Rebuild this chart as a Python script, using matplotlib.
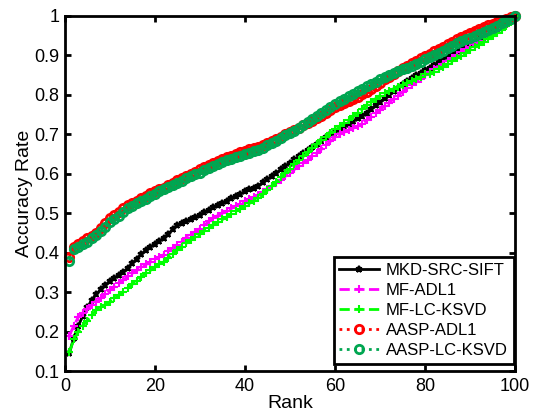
import matplotlib
matplotlib.use("Agg")
import matplotlib.pyplot as plt
import numpy as np

plt.rcParams["font.family"] = ["Liberation Sans", "DejaVu Sans"]

ranks = np.arange(1, 101)

mkd_src_sift = [
    0.145, 0.185, 0.215, 0.240, 0.262, 0.280, 0.295, 0.307, 0.318, 0.328,
    0.336, 0.344, 0.352, 0.361, 0.373, 0.385, 0.396, 0.407, 0.415, 0.422,
    0.430, 0.437, 0.448, 0.459, 0.470, 0.475, 0.480, 0.485, 0.490, 0.496,
    0.502, 0.508, 0.515, 0.520, 0.526, 0.532, 0.538, 0.543, 0.549, 0.555,
    0.560, 0.565, 0.570, 0.578, 0.586, 0.594, 0.602, 0.611, 0.620, 0.628,
    0.636, 0.644, 0.652, 0.660, 0.668, 0.676, 0.684, 0.692, 0.700, 0.706,
    0.712, 0.719, 0.726, 0.733, 0.740, 0.747, 0.755, 0.764, 0.773, 0.782,
    0.791, 0.800, 0.809, 0.818, 0.827, 0.835, 0.842, 0.849, 0.856, 0.863,
    0.869, 0.876, 0.883, 0.890, 0.897, 0.904, 0.910, 0.916, 0.922, 0.928,
    0.934, 0.940, 0.946, 0.952, 0.958, 0.964, 0.971, 0.979, 0.988, 1.000,
]

mf_adl1 = [
    0.190, 0.215, 0.237, 0.248, 0.258, 0.267, 0.275, 0.285, 0.295, 0.305,
    0.314, 0.322, 0.331, 0.340, 0.348, 0.355, 0.363, 0.370, 0.376, 0.383,
    0.389, 0.395, 0.403, 0.411, 0.420, 0.428, 0.436, 0.444, 0.452, 0.461,
    0.470, 0.479, 0.488, 0.494, 0.500, 0.506, 0.512, 0.518, 0.524, 0.530,
    0.535, 0.540, 0.545, 0.553, 0.561, 0.569, 0.577, 0.585, 0.594, 0.603,
    0.611, 0.619, 0.627, 0.635, 0.644, 0.653, 0.662, 0.672, 0.682, 0.692,
    0.700, 0.705, 0.710, 0.715, 0.720, 0.726, 0.735, 0.744, 0.753, 0.762,
    0.771, 0.780, 0.789, 0.798, 0.807, 0.816, 0.825, 0.833, 0.841, 0.849,
    0.857, 0.864, 0.871, 0.878, 0.885, 0.892, 0.900, 0.908, 0.915, 0.922,
    0.929, 0.936, 0.943, 0.950, 0.957, 0.964, 0.972, 0.980, 0.989, 1.000,
]

mf_lc_ksvd = [
    0.148, 0.180, 0.200, 0.215, 0.228, 0.242, 0.255, 0.262, 0.268, 0.275,
    0.284, 0.292, 0.301, 0.310, 0.320, 0.329, 0.339, 0.348, 0.355, 0.363,
    0.370, 0.377, 0.387, 0.397, 0.407, 0.415, 0.424, 0.432, 0.440, 0.448,
    0.455, 0.462, 0.470, 0.477, 0.484, 0.491, 0.498, 0.505, 0.511, 0.518,
    0.525, 0.531, 0.538, 0.548, 0.558, 0.569, 0.580, 0.591, 0.602, 0.613,
    0.624, 0.634, 0.644, 0.655, 0.665, 0.675, 0.685, 0.694, 0.703, 0.712,
    0.720, 0.728, 0.737, 0.746, 0.755, 0.764, 0.773, 0.782, 0.790, 0.798,
    0.804, 0.810, 0.815, 0.820, 0.825, 0.830, 0.835, 0.840, 0.846, 0.852,
    0.852, 0.858, 0.864, 0.871, 0.878, 0.885, 0.892, 0.899, 0.906, 0.913,
    0.920, 0.927, 0.934, 0.941, 0.948, 0.956, 0.964, 0.973, 0.985, 1.000,
]

aasp_adl1 = [
    0.390, 0.415, 0.422, 0.430, 0.436, 0.443, 0.451, 0.462, 0.475, 0.488,
    0.496, 0.504, 0.512, 0.520, 0.526, 0.532, 0.538, 0.544, 0.550, 0.555,
    0.560, 0.565, 0.571, 0.577, 0.583, 0.589, 0.595, 0.600, 0.605, 0.611,
    0.617, 0.623, 0.628, 0.633, 0.638, 0.642, 0.646, 0.650, 0.654, 0.658,
    0.662, 0.665, 0.668, 0.673, 0.678, 0.683, 0.688, 0.694, 0.700, 0.705,
    0.711, 0.717, 0.723, 0.728, 0.734, 0.740, 0.747, 0.754, 0.761, 0.768,
    0.775, 0.780, 0.785, 0.790, 0.795, 0.801, 0.808, 0.815, 0.823, 0.831,
    0.839, 0.846, 0.853, 0.860, 0.867, 0.874, 0.880, 0.886, 0.892, 0.898,
    0.904, 0.910, 0.916, 0.922, 0.928, 0.934, 0.940, 0.946, 0.951, 0.956,
    0.961, 0.966, 0.971, 0.976, 0.980, 0.984, 0.988, 0.992, 0.996, 1.000,
]

aasp_lc_ksvd = [
    0.380, 0.410, 0.415, 0.422, 0.428, 0.436, 0.445, 0.455, 0.466, 0.478,
    0.486, 0.494, 0.503, 0.513, 0.519, 0.525, 0.531, 0.537, 0.543, 0.549,
    0.555, 0.560, 0.566, 0.571, 0.577, 0.582, 0.588, 0.593, 0.598, 0.603,
    0.609, 0.615, 0.620, 0.625, 0.630, 0.635, 0.638, 0.642, 0.646, 0.650,
    0.653, 0.657, 0.660, 0.666, 0.672, 0.678, 0.684, 0.690, 0.697, 0.703,
    0.709, 0.716, 0.723, 0.730, 0.738, 0.746, 0.754, 0.762, 0.769, 0.776,
    0.783, 0.790, 0.797, 0.803, 0.809, 0.815, 0.821, 0.827, 0.833, 0.839,
    0.845, 0.850, 0.855, 0.860, 0.864, 0.868, 0.872, 0.878, 0.884, 0.890,
    0.895, 0.900, 0.906, 0.912, 0.918, 0.924, 0.930, 0.935, 0.940, 0.945,
    0.950, 0.955, 0.960, 0.965, 0.970, 0.975, 0.981, 0.987, 0.993, 1.000,
]

fig = plt.figure(figsize=(5.36, 4.16), dpi=100)
ax = fig.add_axes([0.121, 0.108, 0.840, 0.854])

ax.plot(ranks, mkd_src_sift, "-", color="black", lw=2, marker="*", ms=5,
        mew=1.5, label="MKD-SRC-SIFT", clip_on=False)
ax.plot(ranks, mf_adl1, "--", color="#ff00ff", lw=2, marker="+", ms=6,
        mew=1.5, label="MF-ADL1", clip_on=False)
ax.plot(ranks, mf_lc_ksvd, "--", color="#00ff00", lw=2, marker="+", ms=6,
        mew=1.5, label="MF-LC-KSVD", clip_on=False)
ax.plot(ranks, aasp_adl1, ":", color="red", lw=2, marker="o", ms=6,
        mfc="none", mew=2, label="AASP-ADL1", clip_on=False)
ax.plot(ranks, aasp_lc_ksvd, ":", color="#00a651", lw=2, marker="o", ms=6,
        mfc="none", mew=2, label="AASP-LC-KSVD", clip_on=False)

ax.set_xlim(0, 100)
ax.set_ylim(0.1, 1)
ax.set_xticks(np.arange(0, 101, 20))
ax.set_yticks(np.arange(0.1, 1.01, 0.1))
ax.set_yticklabels(["0.1", "0.2", "0.3", "0.4", "0.5", "0.6", "0.7", "0.8", "0.9", "1"])
ax.tick_params(direction="in", top=True, right=True, length=4, width=2,
               labelsize=13)
ax.tick_params(axis="x", pad=5)
ax.tick_params(axis="y", pad=4)
for sp in ax.spines.values():
    sp.set_linewidth(2)
ax.set_xlabel("Rank", fontsize=14, labelpad=0)
ax.set_ylabel("Accuracy Rate", fontsize=14, labelpad=1)

leg = ax.legend(loc="lower right", bbox_to_anchor=(0.997, 0.02), borderaxespad=0,
                fontsize=12, fancybox=False, edgecolor="black", framealpha=1,
                handlelength=2.4, labelspacing=0.3, borderpad=0.35,
                handletextpad=0.4)
leg.get_frame().set_linewidth(2)

fig.savefig("out.png", dpi=100)
